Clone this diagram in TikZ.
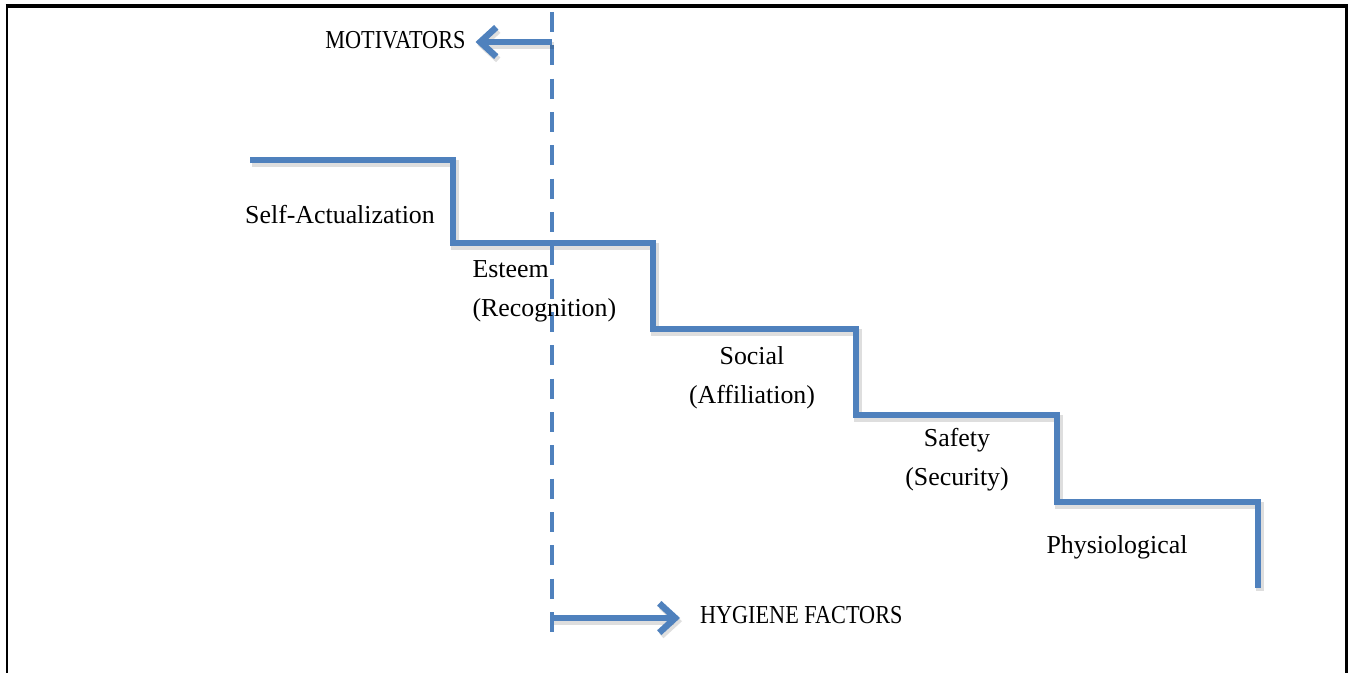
\documentclass[tikz,border=0pt]{standalone}
\usepackage{fontspec}
\setmainfont{Liberation Serif}
\newfontfamily\capsfont[FakeStretch=0.86]{Liberation Serif}
\usetikzlibrary{arrows.meta}

\definecolor{stepblue}{RGB}{79,129,189}

\tikzset{every picture/.style={line width=0.75pt}}
\tikzset{
  softshadow/.style={preaction={draw=black, opacity=0.13, line width=5.5pt,
      transform canvas={shift={(1.5pt,-2.4pt)}}}},
  stairline/.style={draw=stepblue, line width=4.8pt, line join=miter, softshadow},
  splitline/.style={draw=stepblue, line width=2.5pt, dash pattern=on 15pt off 10pt},
  factorarrow/.style={draw=stepblue, line width=4.8pt, softshadow,
      -{Straight Barb[length=12pt,width=22pt,line width=4.8pt]}},
  steplabel/.style={inner sep=0pt, font=\fontsize{19.4pt}{29pt}\selectfont},
  factorlabel/.style={inner sep=0pt, font=\capsfont\fontsize{19.4pt}{23pt}\selectfont},
}

\begin{document}
\begin{tikzpicture}[x=0.75pt,y=0.75pt,yscale=-1,xscale=1]
\useasboundingbox (0,0) rectangle (1352,673);

%Frame (open at the bottom)
\draw[line width=1.6pt] (7,673) -- (7,6);
\draw[line width=2.6pt] (5.5,6) -- (1346.5,6);
\draw[line width=2.6pt] (1346.5,4.5) -- (1346.5,673);

%Staircase of needs
\draw[stairline] (250,160) -- (453,160) -- (453,243) -- (653,243) -- (653,329)
  -- (856,329) -- (856,415) -- (1057,415) -- (1057,502) -- (1258,502) -- (1258,588);

%Split between motivators and hygiene factors
\coordinate (splittop) at (552,12);
\coordinate (splitbot) at (552,640);
\draw[splitline] (splittop) -- (splitbot);

% Text Node
\node[steplabel] (selfact) at (340,215) {Self-Actualization};
% Text Node
\node[steplabel, anchor=west, align=left] (esteem) at (472,291) {Esteem\\(Recognition)};
% Text Node
\node[steplabel, align=center] (social) at (752,378) {Social\\(Affiliation)};
% Text Node
\node[steplabel, align=center] (safety) at (957,460) {Safety\\(Security)};
% Text Node
\node[steplabel] (physio) at (1117,547) {Physiological};

% Text Node
\node[factorlabel, anchor=east, outer sep=7.5pt] (motivators) at (475.5,40) {MOTIVATORS};
% Text Node
\node[factorlabel, anchor=west, outer sep=15pt] (hygiene) at (680,615) {HYGIENE FACTORS};

%Arrows off the split line
\coordinate (motfoot) at (552,42);
\coordinate (hygfoot) at (552,618);
\draw[factorarrow] (motfoot) -- (motfoot -| motivators.east);
\draw[factorarrow] (hygfoot) -- (hygfoot -| hygiene.west);

\end{tikzpicture}
\end{document}
